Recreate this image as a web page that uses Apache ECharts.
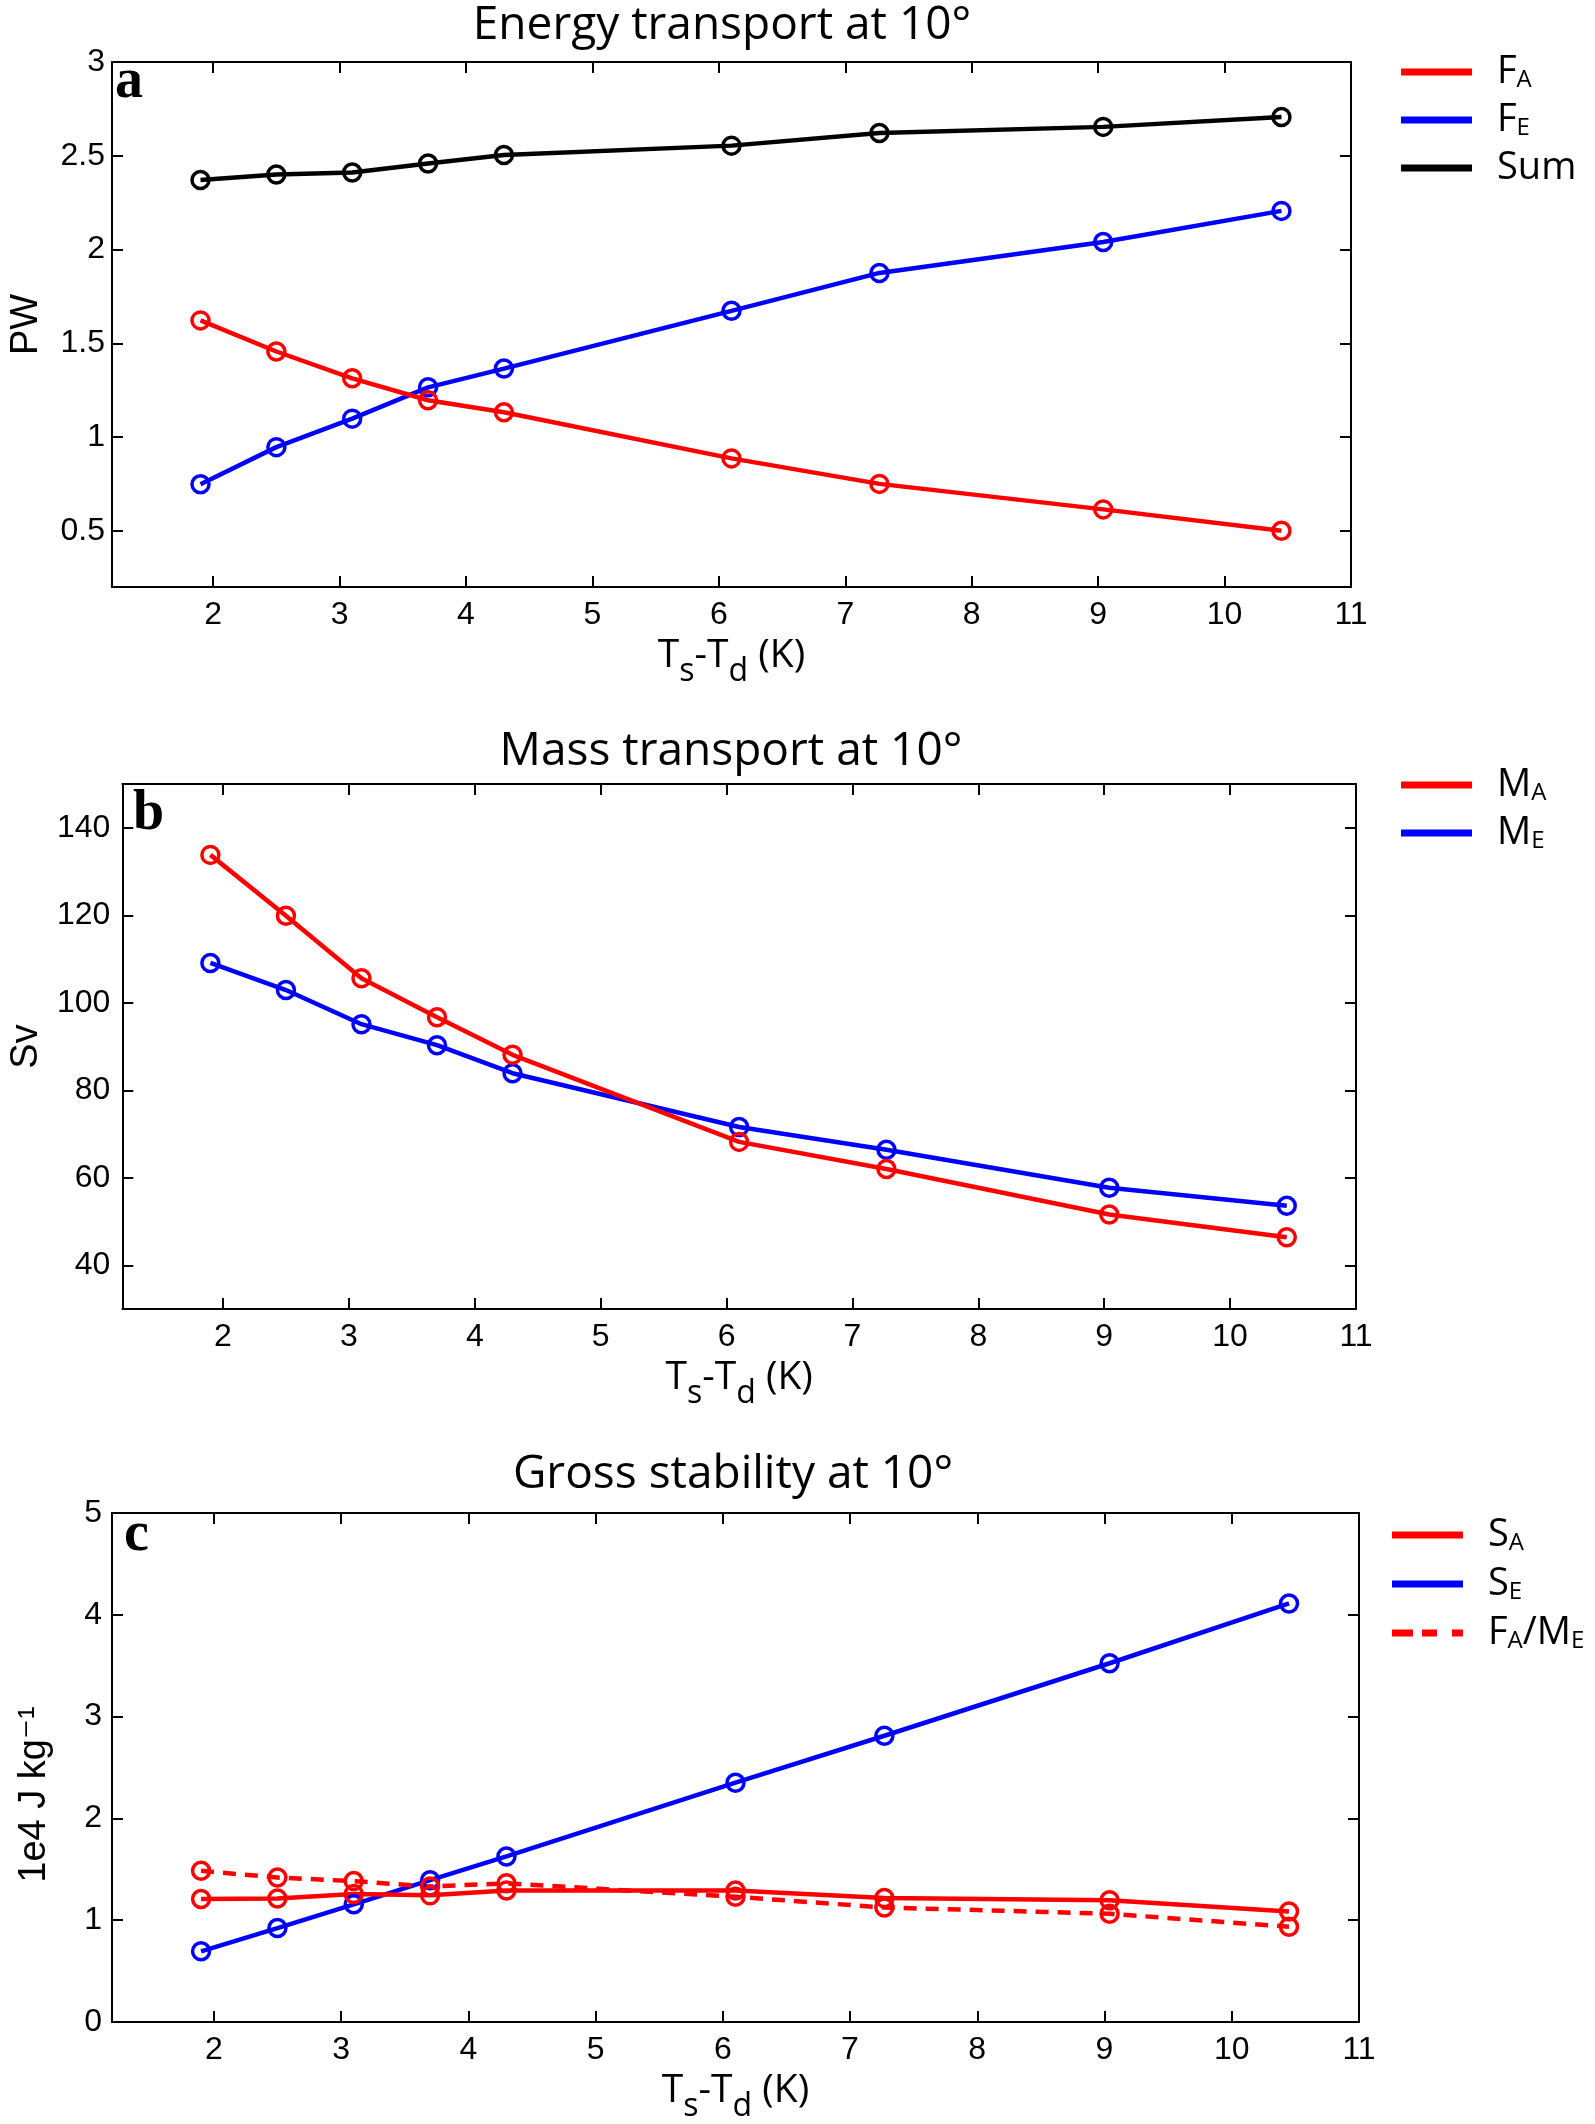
<!DOCTYPE html>
<html>
<head>
<meta charset="utf-8">
<script src="https://cdn.jsdelivr.net/npm/echarts@6/dist/echarts.min.js"></script>
<style>
  html, body { margin: 0; padding: 0; background: #fff; }
  #chart { width: 1595px; height: 2124px; }
</style>
</head>
<body>
<div id="chart"></div>
<script>
// Ts - Td (K), shared by the three panels
const dewDep = [1.9, 2.5, 3.1, 3.7, 4.3, 6.1, 7.27, 9.04, 10.45]

// a: energy transport (PW)
const energyFA = [1.622, 1.456, 1.313, 1.196, 1.132, 0.886, 0.75, 0.614, 0.5]
const energyFE = [0.748, 0.946, 1.098, 1.265, 1.365, 1.673, 1.875, 2.04, 2.206]
const energySum = [2.371, 2.40, 2.411, 2.459, 2.504, 2.554, 2.621, 2.654, 2.707]

// b: mass transport (Sv)
const massMA = [133.8, 119.9, 105.6, 96.7, 88.1, 68.2, 62.0, 51.6, 46.4]
const massME = [109.1, 102.9, 95.1, 90.3, 83.9, 71.6, 66.4, 57.7, 53.6]

// c: gross stability (1e4 J/kg)
const stabSA = [1.208, 1.213, 1.257, 1.244, 1.292, 1.292, 1.217, 1.195, 1.085]
const stabSE = [0.694, 0.923, 1.156, 1.393, 1.626, 2.351, 2.812, 3.524, 4.112]
const stabFAME = [1.485, 1.419, 1.384, 1.331, 1.362, 1.23, 1.125, 1.063, 0.936]

// ticks
const xTicks = [2, 3, 4, 5, 6, 7, 8, 9, 10, 11]
const yTicksA = [0.5, 1, 1.5, 2, 2.5, 3]
const yTicksB = [40, 60, 80, 100, 120, 140]
const yTicksC = [0, 1, 2, 3, 4, 5]

const RED = '#ff0000'
const BLUE = '#0000ff'
const BLACK = '#000000'
const SANS = 'Open Sans'
const TICKFONT = 'Liberation Sans'

// legend label text with subscripts
const legendText = {
  'FA': '{m|F}{s|A}',
  'FE': '{m|F}{s|E}',
  'Sum': '{m|Sum}',
  'MA': '{m|M}{s|A}',
  'ME': '{m|M}{s|E}',
  'SA': '{m|S}{s|A}',
  'SE': '{m|S}{s|E}',
  'FA/ME': '{m|F}{s|A}{m|/M}{s|E}'
}

let pairs = (ys) => dewDep.map((x, i) => [x, ys[i]])

let makeX = (gi, pos) => {
  let axis = {
    type: 'value', gridIndex: gi, position: pos, min: 1.2, max: 11,
    axisLine: {show: true, onZero: false, lineStyle: {color: BLACK, width: 2}},
    axisTick: {show: true, inside: true, length: 11, customValues: xTicks, lineStyle: {color: BLACK, width: 2}},
    axisLabel: {show: pos === 'bottom', customValues: xTicks, fontFamily: TICKFONT, fontSize: 32, color: BLACK, margin: 12},
    splitLine: {show: false}
  }
  if (pos === 'bottom') {
    axis.name = '{m|T}{s|s}{m|-T}{s|d}{m| (K)}'
    axis.nameLocation = 'middle'
    axis.nameGap = 49
    axis.nameTextStyle = {
      fontFamily: SANS, fontSize: 38, color: BLACK,
      rich: {
        m: {fontFamily: SANS, fontSize: 39, lineHeight: 39, color: BLACK, verticalAlign: 'top'},
        s: {fontFamily: SANS, fontSize: 32, lineHeight: 32, color: BLACK, verticalAlign: 'top', padding: [20, 0, 0, 0]}
      }
    }
  }
  return axis
}

let makeY = (gi, pos, min, max, ticks, name, gap, margin, pad) => {
  let axis = {
    type: 'value', gridIndex: gi, position: pos, min: min, max: max,
    axisLine: {show: true, onZero: false, lineStyle: {color: BLACK, width: 2}},
    axisTick: {show: true, inside: true, length: 11, customValues: ticks, lineStyle: {color: BLACK, width: 2}},
    axisLabel: {show: pos === 'left', customValues: ticks, fontFamily: TICKFONT, fontSize: 32, color: BLACK, margin: margin},
    splitLine: {show: false}
  }
  if (pos === 'left') {
    axis.name = name
    axis.nameLocation = 'middle'
    axis.nameGap = gap
    axis.nameTextStyle = {fontFamily: TICKFONT + ', DejaVu Sans', fontSize: 38, color: BLACK, padding: pad || 0}
  }
  return axis
}

let makeLine = (name, gi, ys, color, dashed) => ({
  name: name,
  type: 'line',
  xAxisIndex: gi * 2,
  yAxisIndex: gi * 2,
  data: pairs(ys),
  symbol: 'circle',
  symbolSize: 17,
  showSymbol: true,
  lineStyle: {color: color, width: 4.5, type: dashed ? [13, 9] : 'solid'},
  itemStyle: {color: 'rgba(0,0,0,0)', borderColor: color, borderWidth: 3.5},
  emphasis: {disabled: true},
  z: 3
})

let makeLegend = (names, colors, left, top, gap) => ({
  orient: 'vertical',
  left: left,
  top: top,
  padding: 0,
  itemWidth: 71,
  itemHeight: 7,
  itemGap: gap,
  symbolKeepAspect: false,
  selectedMode: false,
  data: names.map((n, i) => ({
    name: n,
    icon: n === 'FA/ME' ? 'path://M0,0h21v6h-21z M30,0h15v6h-15z M60,0h11v6h-11z' : 'rect',
    itemStyle: {color: colors[i], borderWidth: 0}
  })),
  formatter: (n) => legendText[n],
  textStyle: {
    padding: [0, 0, 0, 20],
    rich: {
      m: {fontFamily: SANS, fontSize: 38, lineHeight: 40, color: BLACK},
      s: {fontFamily: SANS, fontSize: 24, lineHeight: 24, color: BLACK, verticalAlign: 'bottom'}
    }
  }
})

let titleStyle = {fontFamily: SANS, fontSize: 46, fontWeight: 'normal', color: BLACK}
let letterStyle = {fontFamily: 'Liberation Serif', fontSize: 56, fontWeight: 'bold', color: BLACK}

const option = {
  animation: false,
  backgroundColor: '#fff',
  title: [
    {text: 'Energy transport at 10°', left: 722, top: 3, textAlign: 'center', padding: 0, textStyle: titleStyle},
    {text: 'Mass transport at 10°', left: 731, top: 729, textAlign: 'center', padding: 0, textStyle: titleStyle},
    {text: 'Gross stability at 10°', left: 733, top: 1452, textAlign: 'center', padding: 0, textStyle: titleStyle},
    {text: 'a', left: 115, top: 55, padding: 0, textStyle: letterStyle},
    {text: 'b', left: 133, top: 787, padding: 0, textStyle: letterStyle},
    {text: 'c', left: 124, top: 1508, padding: 0, textStyle: letterStyle}
  ],
  grid: [
    {left: 103, top: 62, width: 1248, height: 525},
    {left: 108, top: 784, width: 1248, height: 525},
    {left: 112, top: 1513, width: 1247, height: 524}
  ],
  xAxis: [
    makeX(0, 'bottom'), makeX(0, 'top'),
    makeX(1, 'bottom'), makeX(1, 'top'),
    makeX(2, 'bottom'), makeX(2, 'top')
  ],
  yAxis: [
    makeY(0, 'left', 0.2, 3, yTicksA, 'PW', 66, 7), makeY(0, 'right', 0.2, 3, yTicksA),
    makeY(1, 'left', 30, 150, yTicksB, 'Sv', 75, 12), makeY(1, 'right', 30, 150, yTicksB),
    makeY(2, 'left', 0, 5, yTicksC, '1e4 J kg⁻¹', 58, 10, [0, 54, 0, 0]), makeY(2, 'right', 0, 5, yTicksC)
  ],
  legend: [
    makeLegend(['FA', 'FE', 'Sum'], [RED, BLUE, BLACK], 1401, 53, 9),
    makeLegend(['MA', 'ME'], [RED, BLUE], 1401, 766, 9),
    makeLegend(['SA', 'SE', 'FA/ME'], [RED, BLUE, RED], 1392, 1516, 10)
  ],
  series: [
    makeLine('Sum', 0, energySum, BLACK),
    makeLine('FE', 0, energyFE, BLUE),
    makeLine('FA', 0, energyFA, RED),
    makeLine('ME', 1, massME, BLUE),
    makeLine('MA', 1, massMA, RED),
    makeLine('SE', 2, stabSE, BLUE),
    makeLine('FA/ME', 2, stabFAME, RED, true),
    makeLine('SA', 2, stabSA, RED)
  ]
}

let chartInstance = echarts.init(document.getElementById('chart'))
chartInstance.setOption(option)
</script>
</body>
</html>
